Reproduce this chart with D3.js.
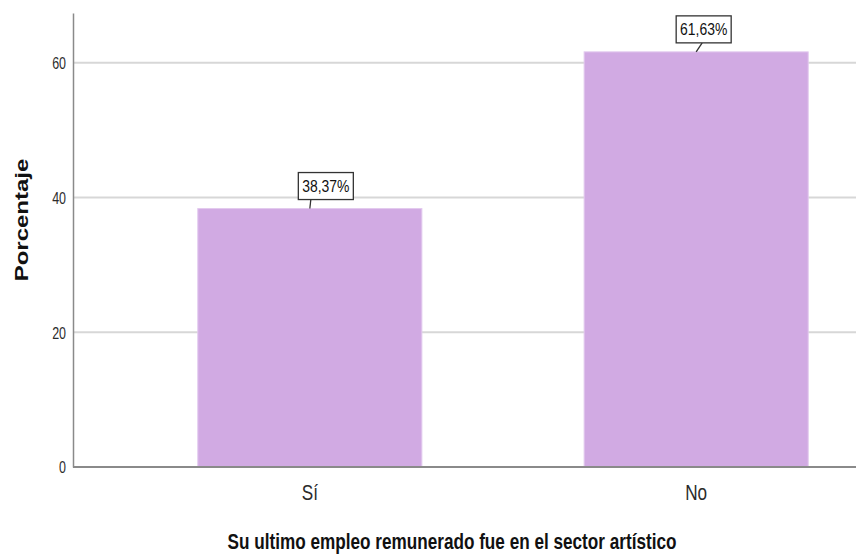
<!DOCTYPE html>
<html>
<head>
<meta charset="utf-8">
<script src="https://cdn.jsdelivr.net/npm/d3@7"></script>
<style>
  body { margin: 0; background: #fff; }
  svg { display: block; font-family: "Liberation Sans", Arial, sans-serif; }
</style>
</head>
<body>
<div id="chart"></div>
<script>
// datos del grafico
const categories = ["Sí", "No"];
const percentages = [38.37, 61.63];
const valueLabels = ["38,37%", "61,63%"];
const yTicks = [0, 20, 40, 60];

const xTitle = "Su ultimo empleo remunerado fue en el sector artístico";
const yTitle = "Porcentaje";

// tamaño del lienzo
var width = 856,
    height = 554;
var margin = {top: 13, left: 73, bottom: 87};

// el original esta comprimido en horizontal, los textos tambien
var sx = 0.78;

var svg = d3.select("#chart")
  .append("svg")
    .attr("width", width)
    .attr("height", height);

// escalas
var x = d3.scaleBand()
  .domain(categories)
  .range([margin.left, 933])   // el grafico original sigue fuera del recorte
  .paddingInner(0.42)
  .paddingOuter(0.323);

var y = d3.scaleLinear()
  .domain([0, 67.4])
  .range([height - margin.bottom, margin.top]);

// lineas de cuadricula
svg.append("g")
  .selectAll("line")
  .data(yTicks.filter(d => d > 0))
  .enter()
  .append("line")
    .attr("x1", margin.left)
    .attr("x2", width)
    .attr("y1", d => y(d))
    .attr("y2", d => y(d))
    .attr("stroke", "#d7d7d7")
    .attr("stroke-width", 2);

// barras
svg.append("g")
  .selectAll("rect")
  .data(percentages)
  .enter()
  .append("rect")
    .attr("x", (d, i) => x(categories[i]))
    .attr("y", d => y(d))
    .attr("width", x.bandwidth())
    .attr("height", d => y(0) - y(d))
    .attr("fill", "#d1aae3")
    .attr("stroke", "#e2c9ee")
    .attr("stroke-width", 1);

// eje Y
var yAxis = svg.append("g")
  .attr("transform", "translate(" + margin.left + ",0)")
  .call(d3.axisLeft(y).tickValues(yTicks).tickSize(0));
yAxis.select(".domain")
  .attr("stroke", "#8a8a8a")
  .attr("stroke-width", 1.5);
yAxis.selectAll("text")
  .attr("x", -7 / sx)
  .attr("dy", "0.36em")
  .attr("transform", "scale(" + sx + ",1)")
  .attr("font-size", "16px")
  .attr("font-family", "Liberation Sans, Arial, sans-serif")
  .attr("fill", "#2b2b2b");

// eje X
var xAxis = svg.append("g")
  .attr("transform", "translate(0," + y(0) + ")")
  .call(d3.axisBottom(x).tickSize(0));
xAxis.select(".domain").remove();
xAxis.append("line")
  .attr("x1", margin.left)
  .attr("x2", width)
  .attr("stroke", "#8a8a8a")
  .attr("stroke-width", 2);
xAxis.selectAll("text")
  .attr("y", 33)
  .attr("dy", null)
  .attr("transform", "scale(" + sx + ",1)")
  .attr("font-size", "22px")
  .attr("font-family", "Liberation Sans, Arial, sans-serif")
  .attr("fill", "#2b2b2b");

// etiquetas de valor con recuadro
var boxW = 55, boxH = 27, lead = 9;
var boxShift = [-11.5, -20];   // desplazamiento horizontal del recuadro
var labels = svg.append("g")
  .selectAll("g")
  .data(percentages)
  .enter()
  .append("g")
    .attr("transform", (d, i) => "translate(" + (x(categories[i]) + x.bandwidth() / 2) + "," + y(d) + ")");

labels.append("line")
  .attr("x1", 0)
  .attr("y1", 0)
  .attr("x2", (d, i) => i == 0 ? 1 : 6)
  .attr("y2", -lead)
  .attr("stroke", "#333")
  .attr("stroke-width", 1.3);

labels.append("rect")
  .attr("x", (d, i) => boxShift[i])
  .attr("y", -lead - boxH)
  .attr("width", boxW)
  .attr("height", boxH)
  .attr("fill", "#fff")
  .attr("stroke", "#333")
  .attr("stroke-width", 1.3);

labels.append("text")
  .attr("transform", (d, i) => "translate(" + (boxShift[i] + boxW / 2) + "," + (-lead - 7.5) + ") scale(0.82,1)")
  .attr("text-anchor", "middle")
  .attr("font-size", "17px")
  .attr("fill", "#111")
  .text((d, i) => valueLabels[i]);

// titulos de los ejes
svg.append("text")
  .attr("transform", "translate(452,549) scale(" + sx + ",1)")
  .attr("text-anchor", "middle")
  .attr("font-size", "22px")
  .attr("font-weight", "bold")
  .attr("fill", "#111")
  .text(xTitle);

svg.append("text")
  .attr("transform", "translate(28,220) scale(" + sx + ",1) rotate(-90)")
  .attr("text-anchor", "middle")
  .attr("font-size", "24px")
  .attr("font-weight", "bold")
  .attr("fill", "#111")
  .text(yTitle);
</script>
</body>
</html>
